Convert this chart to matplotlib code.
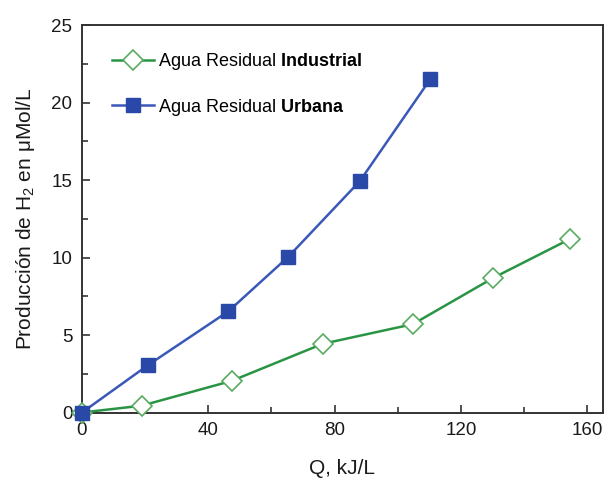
import numpy as np
import matplotlib
matplotlib.use('Agg')
import matplotlib.pyplot as plt
from matplotlib.ticker import MultipleLocator

plt.rcParams['font.family'] = ['Liberation Sans', 'DejaVu Sans']
plt.rcParams['mathtext.fontset'] = 'custom'
plt.rcParams['mathtext.rm'] = 'Liberation Sans'
plt.rcParams['mathtext.it'] = 'Liberation Sans:italic'
plt.rcParams['mathtext.bf'] = 'Liberation Sans:bold'

# data
q_industrial = [0, 18.9, 47.4, 76.2, 104.8, 130.2, 154.6]
h2_industrial = [0, 0.44, 2.04, 4.43, 5.7, 8.68, 11.2]
q_urbana = [0, 21.0, 46.3, 65.3, 88.0, 110.3]
h2_urbana = [0, 3.07, 6.52, 10.04, 14.93, 21.5]

label_ind = r'Agua Residual $\mathbf{Industrial}$'
label_urb = r'Agua Residual $\mathbf{Urbana}$'

fig = plt.figure(figsize=(6.06, 4.84), dpi=100)
ax = fig.add_axes([0.1353, 0.1477, 0.8597, 0.8006])

ax.plot(q_industrial, h2_industrial, color='#2a9445', lw=1.8, marker='D',
        markersize=10, markerfacecolor='white', markeredgecolor='#5aaa62',
        markeredgewidth=1.2, label=label_ind, clip_on=False, zorder=3)
ax.plot(q_urbana, h2_urbana, color='#3a58b8', lw=1.8, marker='s',
        markersize=10, markerfacecolor='#2a48a8', markeredgecolor='#2a48a8',
        label=label_urb, clip_on=False, zorder=4)

ax.set_xlim(0, 165)
ax.set_ylim(0, 25)
ax.xaxis.set_major_locator(MultipleLocator(40))
ax.xaxis.set_minor_locator(MultipleLocator(20))
ax.yaxis.set_major_locator(MultipleLocator(5))
ax.yaxis.set_minor_locator(MultipleLocator(2.5))
ax.tick_params(which='both', direction='in', top=False, right=False,
               width=1.2, colors='#333333', labelcolor='#1a1a1a')
ax.tick_params(which='major', length=6, labelsize=13.5, pad=7)
ax.tick_params(which='minor', length=4)
for sp in ax.spines.values():
    sp.set_color('#333333')
    sp.set_linewidth(1.4)

ax.set_xlabel('Q, kJ/L', fontsize=15, color='#1a1a1a', labelpad=14)
ax.set_ylabel('Producción de H$_2$ en μMol/L', fontsize=15, color='#1a1a1a',
              labelpad=10)

ax.legend(loc='upper left', bbox_to_anchor=(0.058, 0.932), frameon=False,
          fontsize=13, handlelength=2.3, handletextpad=0.25,
          labelspacing=1.35, borderpad=0, borderaxespad=0)

plt.savefig('out.png', dpi=100)
